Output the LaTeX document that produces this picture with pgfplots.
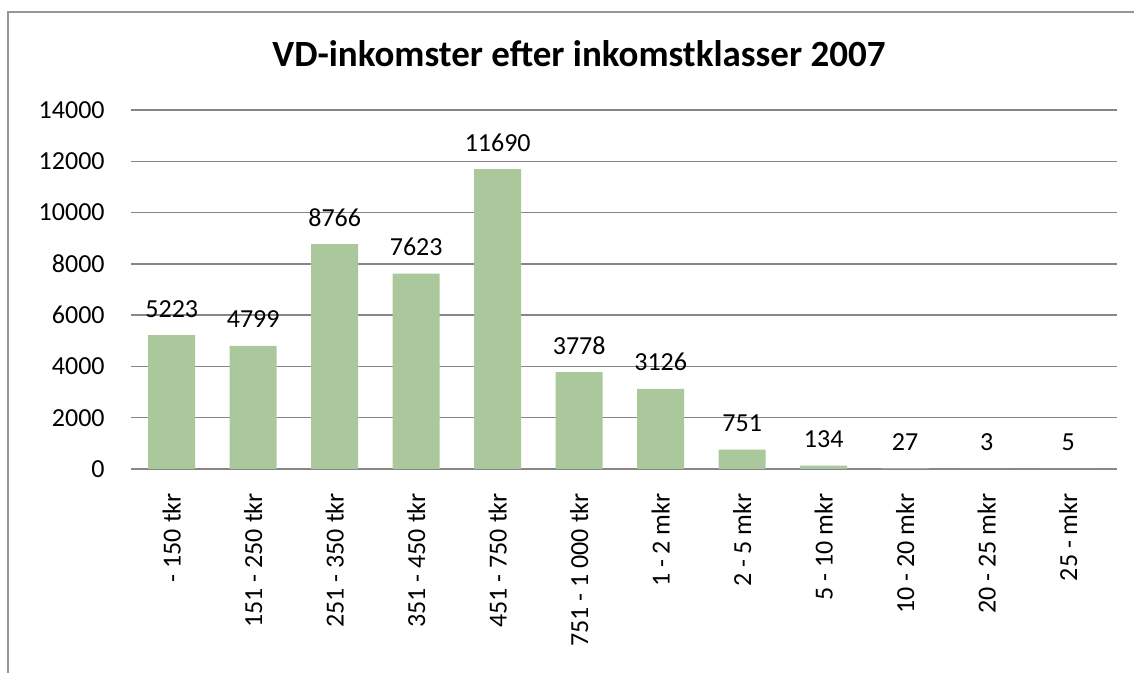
\documentclass[border=0pt]{standalone}
\usepackage{fontspec}
\setmainfont{Carlito}
\usepackage{pgfplots}
\pgfplotsset{compat=1.18}
\usepackage{xcolor}
\definecolor{barfill}{RGB}{171,199,156}
\definecolor{gridgray}{RGB}{134,134,134}
\definecolor{framegray}{RGB}{150,150,150}

\begin{document}
\begin{tikzpicture}
% 1 px of the reference = 0.5pt
\useasboundingbox (0,0) rectangle (567pt,336.5pt);
\draw[framegray, line width=1pt] (4pt,0) -- (4pt,330.5pt) -- (567pt,330.5pt);
\node[anchor=base, font=\fontsize{18.5}{22}\selectfont\bfseries] at (289.5pt,303pt)
  {VD-inkomster efter inkomstklasser 2007};
\begin{axis}[
  at={(65.5pt,102pt)}, anchor=south west,
  scale only axis, width=493pt, height=179.5pt,
  ybar, bar width=23.5pt,
  xmin=-0.5, xmax=11.6, ymin=0, ymax=14000,
  ytick={0,2000,...,14000},
  scaled y ticks=false,
  xtick={0,...,11},
  xticklabels={- 150 tkr, 151 - 250 tkr, 251 - 350 tkr, 351 - 450 tkr,
    451 - 750 tkr, 751 - 1 000 tkr, 1 - 2 mkr, 2 - 5 mkr, 5 - 10 mkr,
    10 - 20 mkr, 20 - 25 mkr, 25 - mkr},
  major tick length=0pt,
  axis x line*=bottom, axis y line*=left,
  x axis line style={gridgray, line width=0.75pt, -},
  y axis line style={draw=none},
  ymajorgrids, grid style={gridgray, line width=0.75pt},
  /pgf/number format/fixed,
  /pgf/number format/1000 sep={},
  /pgf/number format/assume math mode=true,
  tick label style={font=\fontsize{13}{15}\selectfont, inner sep=0pt},
  yticklabel style={anchor=east, xshift=-13pt},
  xticklabel style={rotate=90, anchor=east, xshift=-12pt},
  nodes near coords,
  nodes near coords style={font=\fontsize{13}{15}\selectfont, inner sep=0pt,
    anchor=base, yshift=9pt},
]
\addplot[fill=barfill, draw=none] coordinates {
  (0,5223) (1,4799) (2,8766) (3,7623) (4,11690) (5,3778)
  (6,3126) (7,751) (8,134) (9,27) (10,3) (11,5)};
\end{axis}
\end{tikzpicture}
\end{document}
